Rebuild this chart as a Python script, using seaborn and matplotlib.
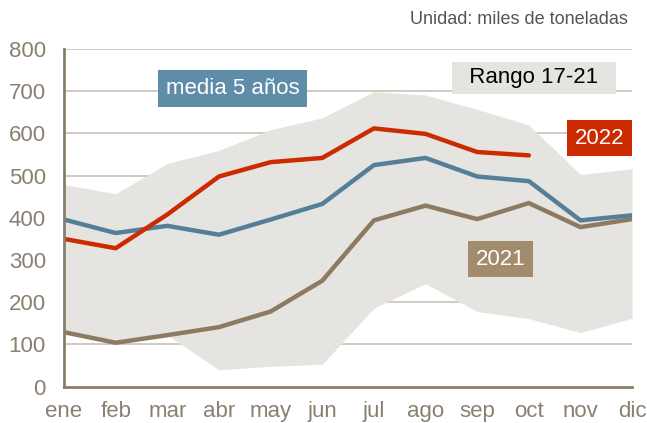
import matplotlib
matplotlib.use("Agg")
import matplotlib.pyplot as plt
import seaborn as sns
import pandas as pd

# Datos (miles de toneladas)
meses = ["ene", "feb", "mar", "abr", "may", "jun", "jul", "ago", "sep", "oct", "nov", "dic"]
media_5 = [396, 364, 381, 360, 396, 433, 525, 542, 498, 487, 394, 406]
y2022 = [350, 328, 408, 498, 532, 542, 612, 599, 556, 548]
y2021 = [129, 104, 122, 141, 178, 251, 394, 429, 397, 435, 378, 397]
rango_max = [479, 457, 529, 560, 609, 637, 699, 691, 657, 620, 503, 516]
rango_min = [129, 104, 122, 40, 48, 53, 186, 244, 178, 161, 128, 162]

sns.set_style("white")
plt.rcParams['font.family'] = ['Liberation Sans', 'DejaVu Sans']

c_azul = "#557f99"
c_rojo = "#cc2a00"
c_marron = "#8c7a63"
c_gris = "#e6e4e0"
c_texto = "#8a8070"

x = list(range(len(meses)))
df = pd.DataFrame({"mes": x, "media": media_5, "y2021": y2021,
                   "max": rango_max, "min": rango_min})
df22 = pd.DataFrame({"mes": x[:len(y2022)], "y2022": y2022})

fig = plt.figure(figsize=(6.47, 4.23), dpi=100)
ax = fig.add_axes([0.099, 0.086, 0.878, 0.798])

for v in range(100, 900, 100):
    ax.axhline(v, color="#c9c2b4", lw=1.2, zorder=0)

ax.fill_between(df["mes"], df["min"], df["max"], color=c_gris, lw=0, zorder=1)

sns.lineplot(data=df, x="mes", y="y2021", color=c_marron, lw=3.2, ax=ax, zorder=3)
sns.lineplot(data=df, x="mes", y="media", color=c_azul, lw=3.2, ax=ax, zorder=4)
sns.lineplot(data=df22, x="mes", y="y2022", color=c_rojo, lw=3.2, ax=ax, zorder=5)

ax.set_xlim(0, 11)
ax.set_ylim(0, 800)
ax.set_xticks(x)
ax.set_xticklabels(meses)
ax.set_yticks(range(0, 900, 100))
ax.set_xlabel("")
ax.set_ylabel("")
ax.tick_params(axis="both", length=0, labelsize=16, labelcolor=c_texto)
ax.tick_params(axis="x", pad=10)
ax.tick_params(axis="y", pad=13)

for s in ["top", "right"]:
    ax.spines[s].set_visible(False)
for s in ["left", "bottom"]:
    ax.spines[s].set_color("#8a7e6a")
    ax.spines[s].set_linewidth(2)
    ax.spines[s].set_zorder(6)

caja = dict(boxstyle="square,pad=0.35", ec="none")
ax.text(3.26, 707, "media 5 años", color="white", fontsize=16, ha="center", va="center",
        bbox=dict(caja, fc="#5f8ca6"), zorder=7)
ax.text(9.1, 732, "  Rango 17-21  ", color="black", fontsize=16, ha="center", va="center",
        bbox=dict(caja, fc=c_gris, boxstyle="square,pad=0.25"), zorder=7)
ax.text(10.37, 589, "2022", color="white", fontsize=16, ha="center", va="center",
        bbox=dict(caja, fc=c_rojo), zorder=7)
ax.text(8.45, 302, "2021", color="white", fontsize=16, ha="center", va="center",
        bbox=dict(caja, fc="#a38b6e"), zorder=7)

fig.text(0.971, 0.953, "Unidad: miles de toneladas", ha="right", va="center",
         fontsize=13, color="#555555")

plt.savefig("out.png", dpi=100)
plt.close()
